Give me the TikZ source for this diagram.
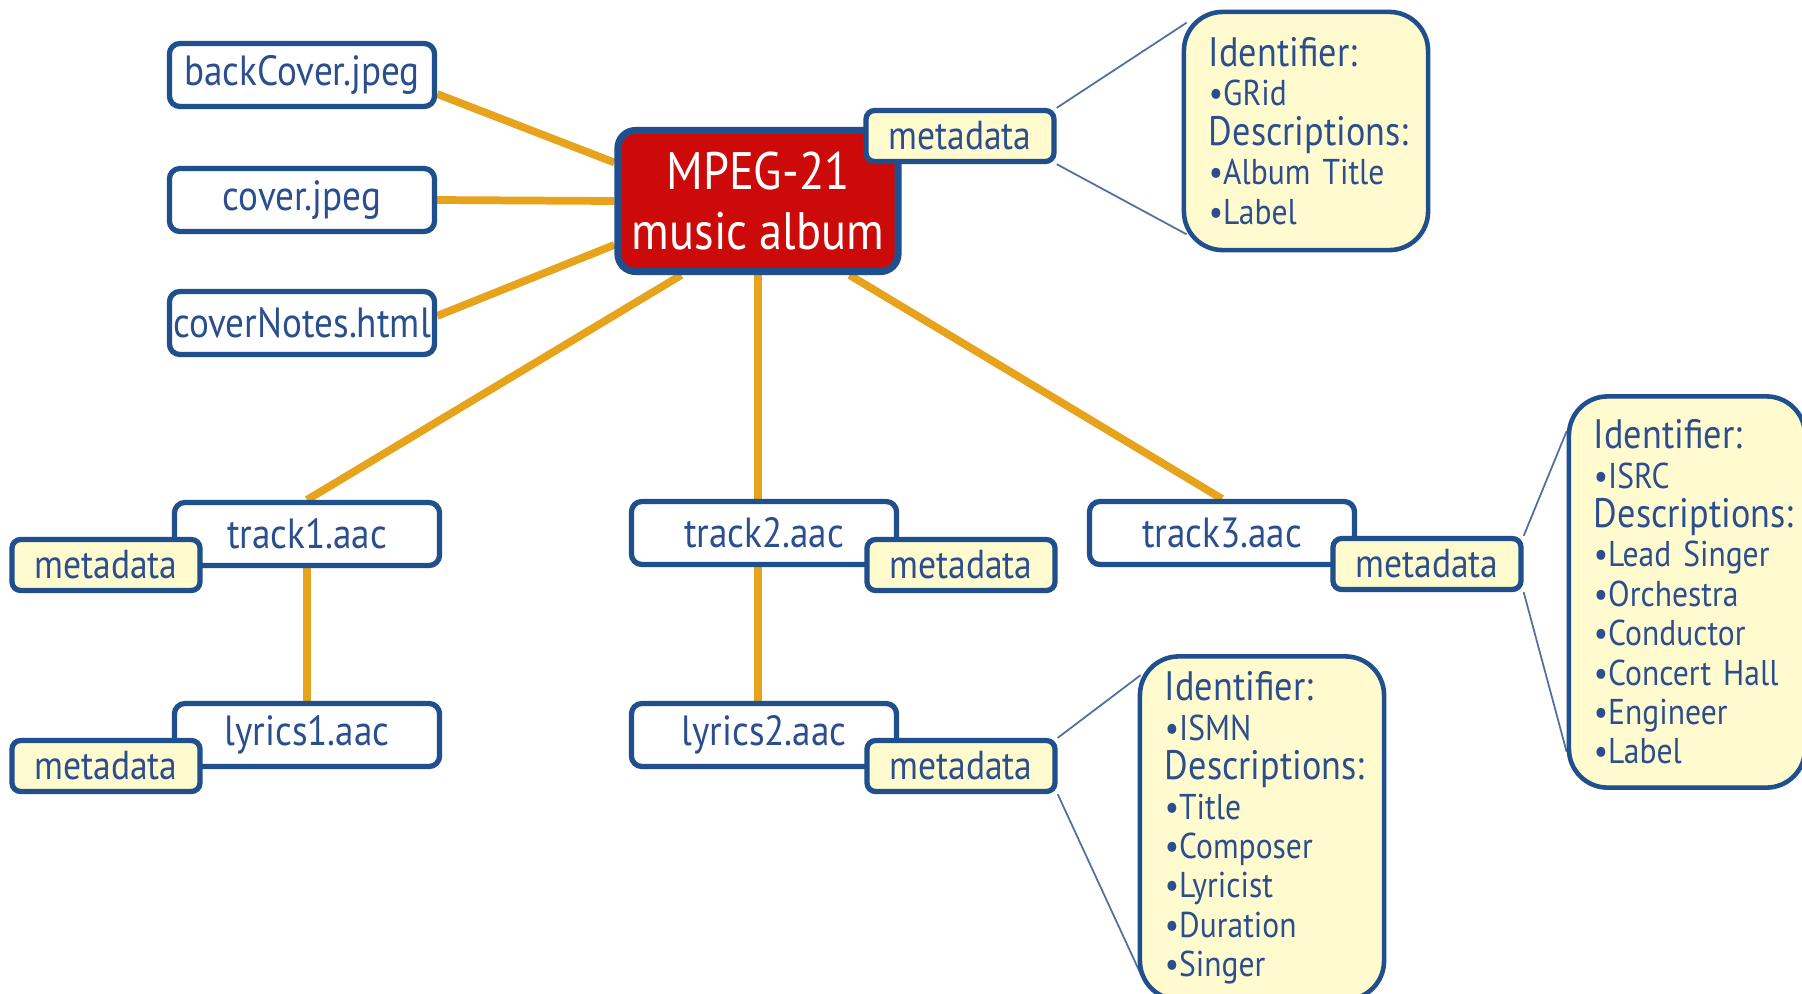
\documentclass[tikz,border=0pt]{standalone}
\usepackage{fontspec}
\setmainfont{PT Sans}[FakeStretch=0.88]
\usepackage{tikz}
\usetikzlibrary{positioning,calc}
\definecolor{albumred}{HTML}{CC0A0A}
\definecolor{frameblue}{HTML}{1F4F8C}
\definecolor{inkblue}{HTML}{2A4E8E}
\definecolor{notefill}{HTML}{FFFBCF}
\definecolor{linkorange}{HTML}{E8A31C}
\definecolor{tieblue}{HTML}{5070A0}
\tikzset{link/.style={
         color=#1,line width=2.2pt}}
\tikzset{tie/.style={
         color=tieblue,line width=0.5pt}}
\tikzset{file/.style={
         draw=frameblue,line width=1.5pt,fill=white,rounded corners=3pt,minimum width=2.65cm,
         minimum height=0.63cm,inner sep=0pt,text=inkblue,font=\fontsize{12}{14}\selectfont}}
\tikzset{meta/.style={
         draw=frameblue,line width=1.5pt,fill=notefill,rounded corners=2.5pt,minimum width=1.88cm,
         minimum height=0.51cm,inner sep=0pt,text=inkblue,font=\fontsize{11.5}{13}\selectfont}}
\tikzset{hub/.style={
         draw=frameblue,line width=2pt,fill=albumred,rounded corners=5pt,minimum width=2.8cm,
         minimum height=1.41cm,inner sep=0pt,text=white,align=center,font=\fontsize{15}{17}\selectfont}}
\tikzset{info/.style={
         draw=frameblue,line width=1.3pt,fill=notefill,rounded corners=11pt,inner xsep=0.25cm,
         inner ysep=0pt,text width=#1,align=left,text=inkblue,font=\fontsize{10.2}{11.2}\selectfont}}
\newcommand{\hd}[1]{{\fontsize{11.7}{11.2}\selectfont #1}}
\newcommand{\itm}[1]{\textbullet#1}
\pgfdeclarelayer{line}
\pgfsetlayers{line,main}

\begin{document}
\begin{tikzpicture}[x=0.01cm,y=-0.01cm]
\clip (0,0) rectangle (1802,993);

% album and its files
\node (album) at (758,201) [hub] {MPEG-21\\music album};
\node (md0) at (960,136) [meta] {metadata};
\node (info0) at (1306,131) [info=1.94cm,minimum height=2.38cm]
  {\hd{Identifier:}\\\itm{GRid}\\\hd{Descriptions:}\\\itm{Album Title}\\\itm{Label}};
\node (backCover) at (302,75) [file] {backCover.jpeg};
\node (cover) at (302,200) [file] {cover.jpeg};
\node (coverNotes) at (302,323) [file] {coverNotes.html};

% tracks
\node (track1) at (307,534) [file] {track1.aac};
\node (md1) at (106,565) [meta] {metadata};
\node (track2) at (764,533) [file] {track2.aac};
\node (md2) at (961,565) [meta] {metadata};
\node (track3) at (1222,533) [file] {track3.aac};
\node (md3) at (1427,564) [meta] {metadata};
\node (isrc) at (1687,592) [info=1.86cm,minimum height=3.91cm]
  {\hd{Identifier:}\\\itm{ISRC}\\\hd{Descriptions:}\\\itm{Lead Singer}\\\itm{Orchestra}\\
   \itm{Conductor}\\\itm{Concert Hall}\\\itm{Engineer}\\\itm{Label}};

% lyrics
\node (lyrics1) at (307,735) [file] {lyrics1.aac};
\node (mdl1) at (106,766) [meta] {metadata};
\node (lyrics2) at (764,735) [file] {lyrics2.aac};
\node (mdl2) at (961,766) [meta] {metadata};
\node (ismn) at (1262,828) [info=1.94cm,minimum height=3.43cm]
  {\hd{Identifier:}\\\itm{ISMN}\\\hd{Descriptions:}\\\itm{Title}\\\itm{Composer}\\
   \itm{Lyricist}\\\itm{Duration}\\\itm{Singer}};

\begin{pgfonlayer}{line}
\fill [white] (0,0) rectangle (1802,993);
\draw [link=linkorange] (backCover.-8) -- (album.165);
\draw [link=linkorange] (cover.east) -- (album.west);
\draw [link=linkorange] (coverNotes.3) -- (album.197);
\draw [link=linkorange] (album.224) -- (track1.north);
\draw [link=linkorange] (album.south) -- (album.south |- track2.north);
\draw [link=linkorange] (album.-39) -- (track3.north);
\draw [link=linkorange] (track1.south) -- (lyrics1.north);
\draw [link=linkorange] (album.south |- track2.south) -- (album.south |- lyrics2.north);
% metadata callouts
\draw [tie] (md0.north east) -- ([shift={(0.05cm,-0.13cm)}]info0.north west);
\draw [tie] (md0.south east) -- ([shift={(0.05cm,0.18cm)}]info0.south west);
\draw [tie] (md3.north east) -- ([yshift=-0.37cm]isrc.north west);
\draw [tie] (md3.south east) -- ([yshift=0.38cm]isrc.south west);
\draw [tie] (mdl2.north east) -- ([shift={(0.03cm,-0.21cm)}]ismn.north west);
\draw [tie] (mdl2.south east) -- ([shift={(0.03cm,0.28cm)}]ismn.south west);
\end{pgfonlayer}

\end{tikzpicture}
\end{document}
